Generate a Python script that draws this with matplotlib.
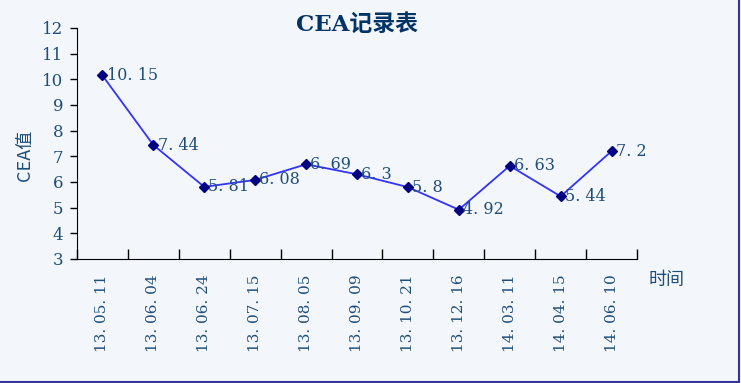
import numpy as np
import matplotlib.pyplot as plt

# 数据
dates = ['13.05.11', '13.06.04', '13.06.24', '13.07.15', '13.08.05', '13.09.09',
         '13.10.21', '13.12.16', '14.03.11', '14.04.15', '14.06.10']
cea = [10.15, 7.44, 5.81, 6.08, 6.69, 6.3, 5.8, 4.92, 6.63, 5.44, 7.2]
yticks = [3, 4, 5, 6, 7, 8, 9, 10, 11, 12]

bg = '#F3F6FB'
txt = '#1F4E79'
serif = ['DejaVu Serif', 'Noto Sans CJK SC']
cjk = ['Noto Sans CJK SC', 'DejaVu Sans']


def spaced(s):
    # 原图中的句点后带空格（全角风格）
    return s.replace('.', '. ')


fig = plt.figure(figsize=(7.41, 3.83), dpi=100)
fig.patch.set_facecolor(bg)
ax = fig.add_axes([0.1039, 0.3238, 0.7557, 0.6031])
ax.set_facecolor(bg)

x = np.arange(len(cea)) + 0.5
ax.plot(x, cea, color='#3333FF', lw=1.3, marker='D', ms=5.5,
        mfc='#000080', mec='#000080', zorder=3)
for xi, v in zip(x, cea):
    ax.annotate(spaced(str(v)), (xi, v), xytext=(3, 0), textcoords='offset points',
                va='center', ha='left', fontsize=11.5, color=txt, family=serif)

ax.set_xlim(0, len(cea))
ax.set_ylim(3, 12)
ax.set_yticks(yticks)
ax.set_yticklabels([str(t) for t in yticks], fontsize=12, color=txt, family=serif)
ax.set_xticks(np.arange(len(cea) + 1))
ax.set_xticklabels([])
ax.set_xticks(x, minor=True)
ax.set_xticklabels([spaced(d) for d in dates], minor=True, rotation=90,
                   fontsize=11, color=txt, family=serif)
ax.tick_params(axis='x', which='major', direction='in', length=7, width=1)
ax.tick_params(axis='x', which='minor', length=0, pad=11)
ax.tick_params(axis='y', direction='out', length=5, width=1, pad=5)
ax.spines['top'].set_visible(False)
ax.spines['right'].set_visible(False)

fig.text(0.482, 0.935, 'CEA记录表', fontsize=16.5, fontweight='bold', color='#003366',
         family=serif, ha='center', va='center')
fig.text(0.034, 0.595, 'CEA值', rotation=90, ha='center', va='center',
         fontsize=13, color=txt, family=cjk)
fig.text(0.875, 0.27, '时间', ha='left', va='center', fontsize=13,
         color=txt, family=cjk)

# 边框
fig.add_artist(plt.Line2D([0, 0.997], [0.003, 0.003], color='#333399', lw=1.5))
fig.add_artist(plt.Line2D([0.997, 0.997], [0.003, 1], color='#333399', lw=1.5))

fig.savefig('out.png', dpi=100, facecolor=bg)
